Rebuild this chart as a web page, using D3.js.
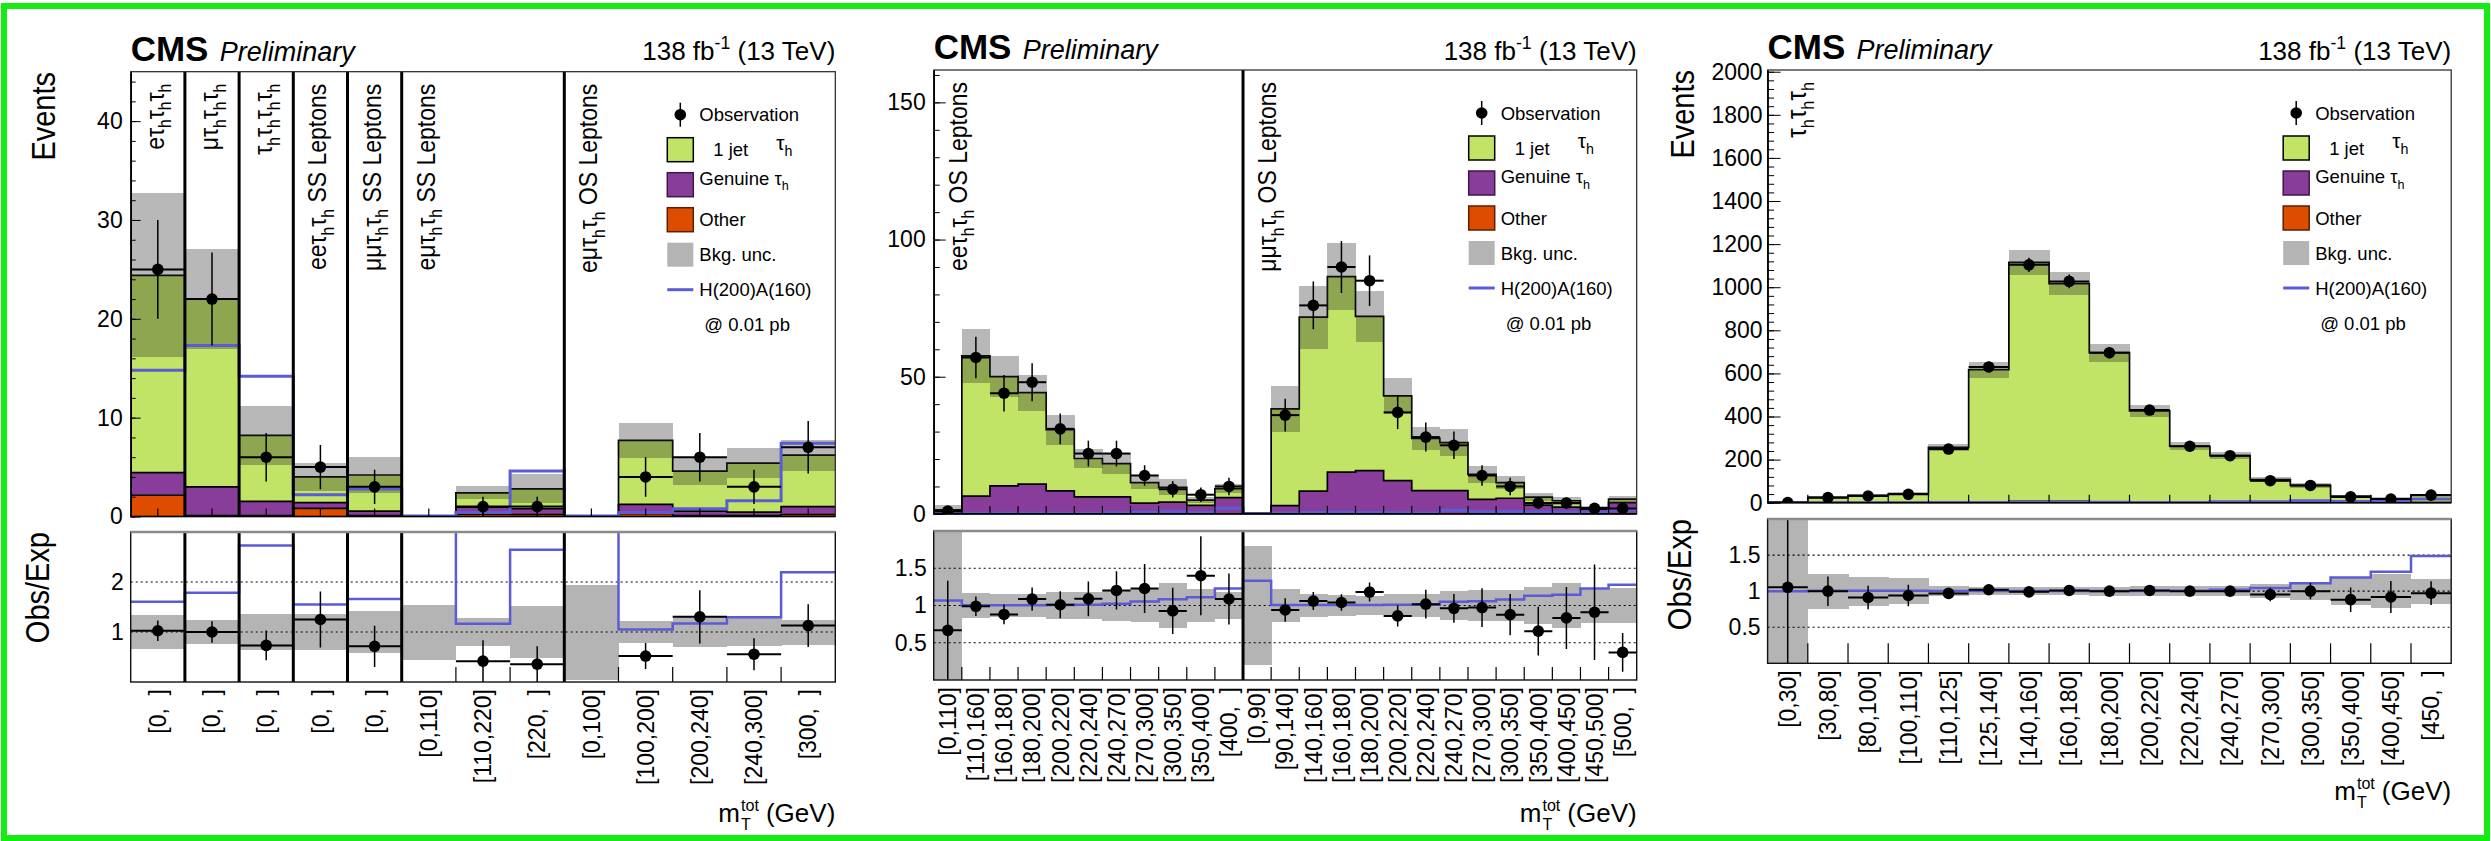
<!DOCTYPE html>
<html><head><meta charset="utf-8">
<script src="https://cdn.jsdelivr.net/npm/d3@7"></script>
<style>
body{margin:0;background:#fff}
svg text{font-family:"Liberation Sans",Arial,Helvetica,sans-serif}
</style>
</head><body>
<svg id="c" width="2491" height="841"></svg>
<script>
// ---------------- DATA ----------------
const NB = "\u00a0\u00a0";
// Panel 1
const p1Labels = ["[0,"+NB+"]","[0,"+NB+"]","[0,"+NB+"]","[0,"+NB+"]","[0,"+NB+"]","[0,110]","[110,220]","[220,"+NB+"]","[0,100]","[100,200]","[200,240]","[240,300]","[300,"+NB+"]"];
const p1Other   = [2.15, 0.1, 0.1, 0.83, 0.1, 0.0, 0.25, 0.2, 0.0, 0.3, 0.1, 0.1, 0.2];
const p1Genuine = [2.29, 2.9, 1.44, 0.57, 0.45, 0.01, 0.7, 0.6, 0.01, 0.93, 0.45, 0.35, 0.8];
const p1Jet     = [19.96, 19.0, 6.66, 2.6, 3.65, 0.01, 1.45, 2.0, 0.01, 6.47, 4.05, 4.95, 5.2];
const p1Unc     = [8.3, 5.1, 3.0, 1.45, 1.8, 0.011, 0.67, 1.45, 0.019, 1.75, 1.4, 1.5, 1.55];
const p1Data    = [25, 22, 6, 5, 3, 0, 1, 1, 0, 4, 6, 3, 7];
const p1Err     = [5.0, 4.7, 2.45, 2.24, 1.73, 0, 1.0, 1.0, 0, 2.0, 2.45, 1.73, 2.65];
const p1Signal  = [14.8, 17.3, 14.2, 2.2, 2.77, 0.05, 0.4, 4.6, 0.05, 0.4, 0.78, 1.6, 7.4];
const p1Cats = [
  {start:0, text:"eτ_{h}τ_{h}τ_{h}"},
  {start:1, text:"μτ_{h}τ_{h}τ_{h}"},
  {start:2, text:"τ_{h}τ_{h}τ_{h}τ_{h}"},
  {start:3, text:"eeτ_{h}τ_{h} SS Leptons"},
  {start:4, text:"μμτ_{h}τ_{h} SS Leptons"},
  {start:5, text:"eμτ_{h}τ_{h} SS Leptons"},
  {start:8, text:"eμτ_{h}τ_{h} OS Leptons"}];
const p1Seps = [1,2,3,4,5,8];
const p1YTicks = [0,10,20,30,40];
const p1RTicks = [1,2];

// Panel 2
const p2Labels = ["[0,110]","[110,160]","[160,180]","[180,200]","[200,220]","[220,240]","[240,270]","[270,300]","[300,350]","[350,400]","[400,"+NB+"]",
                  "[0,90]","[90,140]","[140,160]","[160,180]","[180,200]","[200,220]","[220,240]","[240,270]","[270,300]","[300,350]","[350,400]","[400,450]","[450,500]","[500,"+NB+"]"];
const p2Other   = [0,0,0,0,0,0,0,0,0,0,0, 0,0,0,0,0,0,0,0,0,0,0,0,0,0];
const p2Genuine = [1.0, 6.5, 10.2, 10.85, 8.4, 6.2, 6.2, 3.9, 4.3, 3.1, 5.9, 0.2, 3.0, 8.3, 15.2, 15.8, 12.1, 8.5, 8.5, 5.3, 5.7, 3.2, 2.5, 1.7, 4.1];
const p2Jet     = [0.5, 51.1, 39.8, 33.35, 22.3, 14.0, 12.1, 7.5, 5.4, 1.9, 3.3, 0.1, 35.3, 63.4, 71.3, 56.2, 30.9, 19.0, 17.5, 9.1, 5.7, 2.9, 2.3, 0.5, 1.3];
const p2Unc     = [1.6, 9.8, 7.5, 6.6, 5.5, 3.6, 3.7, 2.5, 2.9, 1.1, 1.7, 0.24, 8.4, 11.5, 12.1, 9.4, 6.5, 4.1, 4.9, 3.0, 2.4, 1.5, 1.45, 0.53, 1.25];
const p2Data    = [1, 57, 44, 48, 31, 22, 22, 14, 9, 7, 10, 0, 36, 76, 90, 85, 37, 28, 25, 14, 10, 4, 4, 2, 2];
const p2Err     = [1, 7.55, 6.63, 6.93, 5.57, 4.69, 4.69, 3.74, 3.0, 2.65, 3.16, 0, 6.0, 8.72, 9.49, 9.22, 6.08, 5.29, 5.0, 3.74, 3.16, 2.0, 2.0, 1.41, 1.41];
const p2Signal  = [0.1, 0.2, 0.2, 0.2, 0.2, 0.2, 0.4, 0.6, 0.8, 0.55, 2.1, 0.1, 0.3, 0.5, 0.6, 0.5, 0.4, 0.3, 1.3, 0.8, 0.9, 0.8, 0.7, 0.5, 1.5];
const p2Cats = [
  {start:0, text:"eeτ_{h}τ_{h} OS Leptons"},
  {start:11, text:"μμτ_{h}τ_{h} OS Leptons"}];
const p2Seps = [11];
const p2YTicks = [0,50,100,150];
const p2RTicks = [0.5,1,1.5];

// Panel 3
const p3Labels = ["[0,30]","[30,80]","[80,100]","[100,110]","[110,125]","[125,140]","[140,160]","[160,180]","[180,200]","[200,220]","[220,240]","[240,270]","[270,300]","[300,350]","[350,400]","[400,450]","[450,"+NB+"]"];
const p3Other   = [0,0,0,0,0,0,0,0,0,0,0,0,0,0,0,0,0];
const p3Genuine = [0.1, 0.5, 0.6, 0.7, 2, 4, 6, 6, 4, 3, 2, 2, 1, 1, 0.5, 0.4, 0.7];
const p3Jet     = [0.85, 23.5, 33.4, 40.8, 255, 614, 1109, 1011, 692, 423, 260, 216, 106, 79, 30.1, 18.1, 35.3];
const p3Unc     = [1.0, 5.8, 6.8, 7.5, 17, 37, 57, 54, 42, 28, 18, 15, 10, 10, 6.0, 4.3, 6.3];
const p3Data    = [1, 24, 31, 39, 249, 630, 1104, 1027, 696, 430, 262, 218, 102, 80, 27, 17, 35];
const p3Err     = [1, 4.9, 5.57, 6.24, 15.8, 25.1, 33.2, 32.0, 26.4, 20.7, 16.2, 14.8, 10.1, 8.94, 5.2, 4.12, 5.92];
const p3Signal  = [0, 0.1, 0.2, 0.2, 0.8, 1.5, 2.0, 2.0, 2.0, 1.5, 1.5, 4.4, 4.8, 8.8, 5.8, 5.0, 17.6];
const p3Cats = [{start:0, text:"τ_{h}τ_{h}τ_{h}"}];
const p3Seps = [];
const p3YTicks = [0,200,400,600,800,1000,1200,1400,1600,1800,2000];
const p3RTicks = [0.5,1,1.5];

const legendItems = ["Observation","1 jet","Genuine τ_{h}","Other","Bkg. unc.","H(200)A(160)","@ 0.01 pb"];

// ---------------- STYLE / LAYOUT ----------------
const COL = {other:"#de4c00", genuine:"#893d9a", jet:"#c2e466", sig:"#5b5bd6", band:"#b4b4b4"};
const svg = d3.select("#c");
svg.append("rect").attr("width",2491).attr("height",841).attr("fill","#fff");

function rich(t, str, fs){
  const re = /([_^])\{([^}]*)\}/g; let last=0, m, shift=0;
  while((m=re.exec(str))){
    if(m.index>last){ t.append("tspan").attr("dy",-shift).text(str.slice(last,m.index)); shift=0; }
    const s = m[1]==="_" ? fs*0.3 : -fs*0.42;
    t.append("tspan").attr("dy", s-shift).attr("font-size", fs*0.68).text(m[2]);
    shift = s; last = re.lastIndex;
  }
  if(last<str.length){ t.append("tspan").attr("dy",-shift).text(str.slice(last)); }
  return t;
}

function drawPanel(L, D, idx){
  const n = D.labels.length;
  const x = d3.scaleLinear().domain([0,n]).range([L.x0,L.x1]);
  const xb = d3.scaleBand().domain(d3.range(n)).range([L.x0,L.x1]);
  const y = d3.scaleLinear().domain([0,L.ymax]).range([L.mb,L.mt]);
  const yr = d3.scaleLinear().domain([0,L.rmax]).range([L.rb,L.rt]);
  const rows = D.labels.map((l,i)=>({other:D.other[i], genuine:D.genuine[i], jet:D.jet[i]}));
  const stacked = d3.stack().keys(["other","genuine","jet"])(rows);
  const total = rows.map(r=>r.other+r.genuine+r.jet);
  const g = svg.append("g");

  const defs = svg.append("defs");
  defs.append("clipPath").attr("id","cm"+idx).append("rect").attr("x",L.x0).attr("y",L.mt).attr("width",L.x1-L.x0).attr("height",L.mb-L.mt);
  defs.append("clipPath").attr("id","cr"+idx).append("rect").attr("x",L.x0).attr("y",L.rt).attr("width",L.x1-L.x0).attr("height",L.rb-L.rt);

  // ---------- main ----------
  const m = g.append("g").attr("clip-path",`url(#cm${idx})`);
  const keys = ["other","genuine","jet"];
  stacked.forEach((layer,k)=>{
    m.append("g").attr("shape-rendering","crispEdges").selectAll("rect").data(layer).join("rect")
      .attr("x",(d,i)=>x(i)).attr("width",(d,i)=>x(i+1)-x(i)+0.5)
      .attr("y",d=>y(d[1])).attr("height",d=>Math.max(0,y(d[0])-y(d[1])))
      .attr("fill",COL[keys[k]]);
  });
  const step = d3.line().x(d=>x(d[0])).y(d=>y(d[1])).curve(d3.curveStepAfter);
  stacked.forEach(layer=>{
    const pts = layer.map((d,i)=>[i,d[1]]); pts.push([n,layer[n-1][1]]);
    m.append("path").attr("d",step(pts)).attr("fill","none").attr("stroke","#000").attr("stroke-width",1.7);
  });
  m.append("g").attr("shape-rendering","crispEdges").selectAll("rect").data(total).join("rect")
    .attr("x",(d,i)=>x(i)).attr("width",(d,i)=>x(i+1)-x(i)+0.5)
    .attr("y",(d,i)=>y(d+D.unc[i])).attr("height",(d,i)=>y(d-D.unc[i])-y(d+D.unc[i]))
    .attr("fill","#282828").attr("fill-opacity",0.33);
  const sp = D.signal.map((v,i)=>[i,v]); sp.push([n,D.signal[n-1]]);
  m.append("path").attr("d",step(sp)).attr("fill","none").attr("stroke",COL.sig).attr("stroke-width",3);
  const dd = D.data.map((v,i)=>({i,v,e:D.err[i]})).filter(d=>d.v>0);
  const dg = m.append("g");
  dg.selectAll("line.v").data(dd).join("line").attr("class","v")
    .attr("x1",d=>xb(d.i)+xb.bandwidth()/2).attr("x2",d=>xb(d.i)+xb.bandwidth()/2)
    .attr("y1",d=>y(d.v+d.e)).attr("y2",d=>y(d.v-d.e)).attr("stroke","#000").attr("stroke-width",1.5);
  dg.selectAll("line.h").data(dd).join("line").attr("class","h")
    .attr("x1",d=>x(d.i)).attr("x2",d=>x(d.i+1))
    .attr("y1",d=>y(d.v)).attr("y2",d=>y(d.v)).attr("stroke","#000").attr("stroke-width",2);
  dg.selectAll("circle").data(dd).join("circle")
    .attr("cx",d=>xb(d.i)+xb.bandwidth()/2).attr("cy",d=>y(d.v)).attr("r",5.8).attr("fill","#000");

  // ---------- ratio ----------
  const r = g.append("g").attr("clip-path",`url(#cr${idx})`);
  r.append("g").attr("shape-rendering","crispEdges").selectAll("rect").data(total).join("rect")
    .attr("x",(d,i)=>x(i)).attr("width",(d,i)=>x(i+1)-x(i)+0.5)
    .attr("y",(d,i)=>yr(1+D.unc[i]/d)).attr("height",(d,i)=>yr(1-D.unc[i]/d)-yr(1+D.unc[i]/d))
    .attr("fill",COL.band);
  r.selectAll("line.grid").data(L.rticks).join("line").attr("class","grid")
    .attr("x1",L.x0).attr("x2",L.x1).attr("y1",d=>yr(d)).attr("y2",d=>yr(d))
    .attr("stroke","#000").attr("stroke-width",1.2).attr("stroke-dasharray","2,3");
  const stepR = d3.line().x(d=>x(d[0])).y(d=>yr(d[1])).curve(d3.curveStepAfter);
  const rs = D.signal.map((v,i)=>[i,(total[i]+v)/total[i]]); rs.push([n,rs[n-1][1]]);
  r.append("path").attr("d",stepR(rs)).attr("fill","none").attr("stroke",COL.sig).attr("stroke-width",2.5);
  const rd = dd.map(d=>({i:d.i, v:d.v/total[d.i], e:d.e/total[d.i]}));
  r.selectAll("line.v").data(rd).join("line").attr("class","v")
    .attr("x1",d=>xb(d.i)+xb.bandwidth()/2).attr("x2",d=>xb(d.i)+xb.bandwidth()/2)
    .attr("y1",d=>yr(d.v+d.e)).attr("y2",d=>yr(d.v-d.e)).attr("stroke","#000").attr("stroke-width",1.5);
  r.selectAll("line.h").data(rd).join("line").attr("class","h")
    .attr("x1",d=>x(d.i)).attr("x2",d=>x(d.i+1))
    .attr("y1",d=>yr(d.v)).attr("y2",d=>yr(d.v)).attr("stroke","#000").attr("stroke-width",2);
  r.selectAll("circle").data(rd).join("circle")
    .attr("cx",d=>xb(d.i)+xb.bandwidth()/2).attr("cy",d=>yr(d.v)).attr("r",5.8).attr("fill","#000");

  // ---------- bottom ticks ----------
  const mt = L.centerTicks ? d3.range(n).map(i=>i+0.5) : d3.range(1,n);
  g.append("g").selectAll("line").data(mt).join("line")
    .attr("x1",d=>x(d)).attr("x2",d=>x(d)).attr("y1",L.mb).attr("y2",L.mb-8)
    .attr("stroke","#000").attr("stroke-width",1.2);
  g.append("g").selectAll("line").data(d3.range(1,n)).join("line")
    .attr("x1",d=>x(d)).attr("x2",d=>x(d)).attr("y1",L.rb).attr("y2",L.rb-L.rtick)
    .attr("stroke","#000").attr("stroke-width",1.2);

  // ---------- separators ----------
  D.seps.forEach(s=>{
    [[L.mt,L.mb],[L.rt,L.rb]].forEach(([a,b])=>{
      g.append("line").attr("x1",x(s)).attr("x2",x(s)).attr("y1",a).attr("y2",b)
        .attr("stroke","#000").attr("stroke-width",3);
    });
  });

  // ---------- frames ----------
  g.append("rect").attr("x",L.x0).attr("y",L.mt).attr("width",L.x1-L.x0).attr("height",L.mb-L.mt)
    .attr("fill","none").attr("stroke","#222").attr("stroke-width",1.2);
  g.append("line").attr("x1",L.x0).attr("x2",L.x1).attr("y1",L.mb).attr("y2",L.mb).attr("stroke","#000").attr("stroke-width",1.6);
  g.append("rect").attr("x",L.x0).attr("y",L.rt).attr("width",L.x1-L.x0).attr("height",L.rb-L.rt)
    .attr("fill","none").attr("stroke","#111").attr("stroke-width",1.4);
  g.append("line").attr("x1",L.x0).attr("x2",L.x1).attr("y1",L.rt).attr("y2",L.rt).attr("stroke","#8a8a8a").attr("stroke-width",2.6);

  // ---------- y axes ----------
  const ya = g.append("g").attr("transform",`translate(${L.x0},0)`)
    .call(d3.axisLeft(y).tickValues(L.yticks).tickSize(-L.ymaj).tickSizeOuter(0).tickPadding(L.ypad).tickFormat(d3.format("d")));
  ya.selectAll("text").attr("font-size",23).attr("font-family","Liberation Sans, Arial, sans-serif");
  ya.select(".domain").attr("stroke","#000").attr("stroke-width",1.6);
  const minor = d3.range(0, L.ymax+1e-9, L.yminor);
  g.append("g").attr("transform",`translate(${L.x0},0)`)
    .call(d3.axisLeft(y).tickValues(minor).tickSize(-L.ymaj/2).tickSizeOuter(0).tickFormat(""))
    .select(".domain").remove();
  const ra = g.append("g").attr("transform",`translate(${L.x0},0)`)
    .call(d3.axisLeft(yr).tickValues(L.rticks).tickSize(0).tickPadding(7).tickFormat(d=>String(d)));
  ra.selectAll("text").attr("font-size",23).attr("font-family","Liberation Sans, Arial, sans-serif");
  ra.select(".domain").remove();

  // ---------- x labels ----------
  const xa = g.append("g").attr("transform",`translate(0,${L.rb})`)
    .call(d3.axisBottom(xb).tickSize(0).tickFormat(i=>D.labels[i]));
  xa.select(".domain").remove();
  xa.selectAll("text").attr("font-size",23).attr("font-family","Liberation Sans, Arial, sans-serif")
    .attr("transform","rotate(-90)").attr("x",-7).attr("y",0).attr("dy","0.36em").style("text-anchor","end");

  // ---------- category labels ----------
  D.cats.forEach(c=>{
    const t = g.append("text").attr("font-size",L.catFs).attr("text-anchor","end")
      .attr("transform",`translate(${x(c.start)+L.catOff},${L.mt+12}) rotate(-90) scale(1,1.12)`);
    rich(t, c.text, L.catFs);
  });

  // ---------- titles ----------
  g.append("text").attr("x",L.x0).attr("y",L.cmsY).attr("font-size",35).attr("font-weight","bold").text("CMS");
  g.append("text").attr("x",L.x0+89).attr("y",L.cmsY).attr("font-size",27).attr("font-style","italic").text("Preliminary");
  rich(g.append("text").attr("x",L.x1).attr("y",60).attr("font-size",26).attr("text-anchor","end"), "138 fb^{-1} (13 TeV)", 26);
  if(L.events){
    g.append("text").attr("font-size",29).attr("text-anchor","end")
      .attr("transform",`translate(${L.events[0]},${L.events[1]}) rotate(-90) scale(1,1.12)`).text("Events");
    g.append("text").attr("font-size",29).attr("text-anchor","end")
      .attr("transform",`translate(${L.obs[0]},${L.obs[1]}) rotate(-90) scale(1,1.12)`).text("Obs/Exp");
  }
  const xt = g.append("g");
  const fs = 26;
  const tm = xt.append("text").attr("font-size",fs).text("m");
  const wm = tm.node().getComputedTextLength();
  const tsup = xt.append("text").attr("x",wm+1).attr("y",-fs*0.42).attr("font-size",fs*0.62).text("tot");
  xt.append("text").attr("x",wm+1).attr("y",fs*0.32).attr("font-size",fs*0.62).text("T");
  const ws = tsup.node().getComputedTextLength();
  const tg = xt.append("text").attr("x",wm+ws+8).attr("font-size",fs).text("(GeV)");
  const wt = wm+ws+8+tg.node().getComputedTextLength();
  xt.attr("transform",`translate(${L.x1-wt},${L.xtY})`);

  // ---------- legend ----------
  const bx = L.x1-168, y0 = L.mt+43, dy = 35;
  const lg = g.append("g").attr("font-size",18.5);
  lg.append("line").attr("x1",bx+13).attr("x2",bx+13).attr("y1",y0-12).attr("y2",y0+12).attr("stroke","#000").attr("stroke-width",1.5);
  lg.append("circle").attr("cx",bx+13).attr("cy",y0).attr("r",5.8).attr("fill","#000");
  lg.append("text").attr("x",bx+32).attr("y",y0).attr("dy","0.36em").text(legendItems[0]);
  const boxes = [[COL.jet,"#000"],[COL.genuine,"#3a1a44"],[COL.other,"#5a2000"],[COL.band,"none"]];
  boxes.forEach((b,k)=>{
    lg.append("rect").attr("x",bx).attr("y",y0+dy*(k+1)-12).attr("width",26).attr("height",24)
      .attr("fill",b[0]).attr("stroke",b[1]).attr("stroke-width",1.5);
  });
  lg.append("text").attr("x",bx+46).attr("y",y0+dy).attr("dy","0.36em").text(legendItems[1]);
  rich(lg.append("text").attr("x",bx+109).attr("y",y0+dy).attr("dy","0.36em").attr("font-size",21), "τ_{h}", 21);
  rich(lg.append("text").attr("x",bx+32).attr("y",y0+dy*2).attr("dy","0.36em"), legendItems[2], 18.5);
  lg.append("text").attr("x",bx+32).attr("y",y0+dy*3).attr("dy","0.36em").text(legendItems[3]);
  lg.append("text").attr("x",bx+32).attr("y",y0+dy*4).attr("dy","0.36em").text(legendItems[4]);
  lg.append("line").attr("x1",bx).attr("x2",bx+26).attr("y1",y0+dy*5).attr("y2",y0+dy*5).attr("stroke",COL.sig).attr("stroke-width",3);
  lg.append("text").attr("x",bx+32).attr("y",y0+dy*5).attr("dy","0.36em").text(legendItems[5]);
  lg.append("text").attr("x",bx+37).attr("y",y0+dy*6).attr("dy","0.36em").text(legendItems[6]);
}

drawPanel(
  {x0:130.7,x1:835.3,mt:71.7,mb:516.5,ymax:45,rt:532,rb:682,rmax:3,yticks:p1YTicks,yminor:2,ymaj:10,ypad:8,
   rticks:p1RTicks,centerTicks:true,rtick:15,catFs:23,catOff:33,cmsY:61,xtY:822,events:[55,72],obs:[49,532]},
  {labels:p1Labels,other:p1Other,genuine:p1Genuine,jet:p1Jet,unc:p1Unc,data:p1Data,err:p1Err,signal:p1Signal,cats:p1Cats,seps:p1Seps},1);
drawPanel(
  {x0:933.7,x1:1636.7,mt:70,mb:513.9,ymax:161.8,rt:531,rb:680,rmax:2,yticks:p2YTicks,yminor:10,ymaj:12,ypad:8,
   rticks:p2RTicks,centerTicks:false,rtick:13,catFs:23,catOff:33,cmsY:59,xtY:822,events:null},
  {labels:p2Labels,other:p2Other,genuine:p2Genuine,jet:p2Jet,unc:p2Unc,data:p2Data,err:p2Err,signal:p2Signal,cats:p2Cats,seps:p2Seps},2);
drawPanel(
  {x0:1767.6,x1:2451.2,mt:70,mb:502.7,ymax:2008,rt:519,rb:663.3,rmax:2,yticks:p3YTicks,yminor:40,ymaj:13,ypad:5,
   rticks:p3RTicks,centerTicks:false,rtick:20,catFs:24,catOff:38,cmsY:59,xtY:800,events:[1694,70],obs:[1691,519]},
  {labels:p3Labels,other:p3Other,genuine:p3Genuine,jet:p3Jet,unc:p3Unc,data:p3Data,err:p3Err,signal:p3Signal,cats:p3Cats,seps:p3Seps},3);

svg.append("rect").attr("x",4).attr("y",6).attr("width",2483).attr("height",832)
  .attr("fill","none").attr("stroke","#14ec14").attr("stroke-width",6);
</script>
</body></html>
